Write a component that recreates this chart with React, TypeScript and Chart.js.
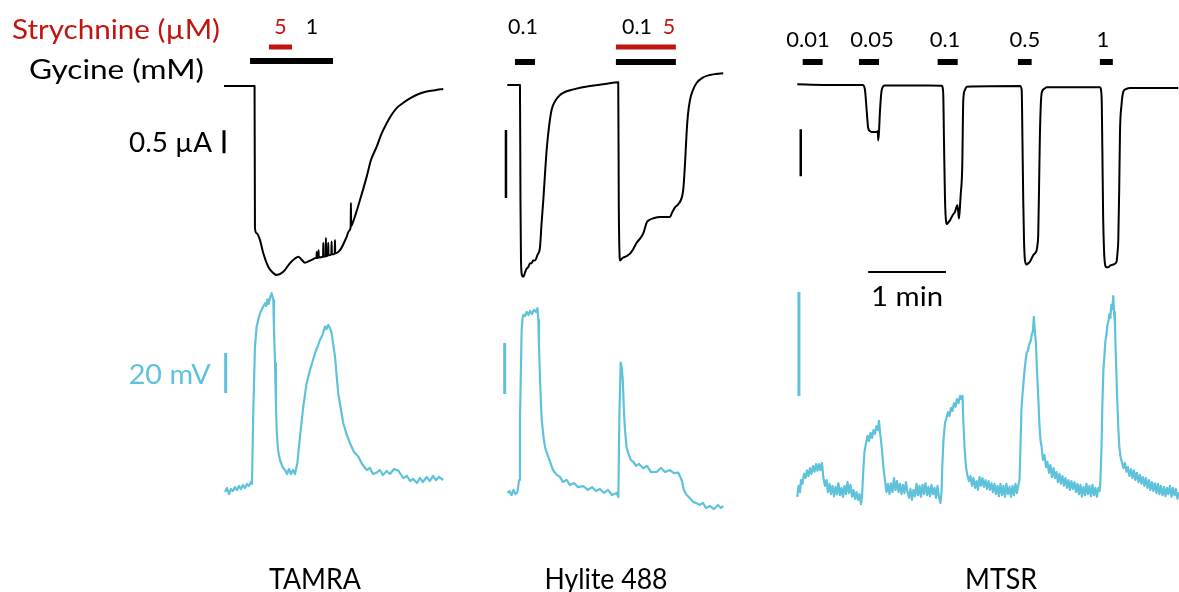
import React, { useEffect, useRef } from 'react';
import { Chart, registerables } from 'chart.js';

Chart.register(...registerables);

// ================= DATA =================
// time in s, current in µA (relative to holding level), voltage deflection in mV

const tamraCurrent: [number, number][] = [
  [0, 0], [23.6, 0], [23.9, -3.09], [25.2, -3.2], [27.8, -3.35], [30.3, -3.63], [34.2, -3.93], [37.1, -4.04],
  [40.7, -4.11], [45.8, -4.04], [51.0, -3.85], [54.8, -3.75], [57.4, -3.71], [59.8, -3.77], [62.5, -3.84],
  [67.7, -3.78], [71.0, -3.74],
  [71.4, -3.74], [71.6, -3.61], [71.8, -3.74],
  [72.8, -3.73], [73.0, -3.57], [73.2, -3.73],
  [76.5, -3.71], [76.7, -3.41], [76.9, -3.71],
  [78.5, -3.7], [78.7, -3.3], [78.9, -3.7],
  [80.3, -3.68], [80.5, -3.41], [80.7, -3.68],
  [82.9, -3.66], [83.1, -3.38], [83.3, -3.66],
  [85.5, -3.64], [85.7, -3.35], [85.9, -3.64],
  [89.6, -3.57], [94.7, -3.28], [96.5, -3.15],
  [97.8, -3.07], [98.0, -2.54], [98.2, -3.05],
  [99.6, -2.96], [105.0, -2.48], [110.2, -1.97], [113.5, -1.61], [117.9, -1.32], [121.6, -1.04], [125.6, -0.81],
  [129.3, -0.63], [133.3, -0.48], [138.2, -0.37], [143.6, -0.27], [149.8, -0.18], [156.5, -0.12], [162.9, -0.09],
  [169.3, -0.065],
];

const tamraVoltage: [number, number][] = [
  [0.8, -1.0], [2.3, 1.0], [3.9, -2.0], [5.4, 0.5], [6.9, -0.5], [8.5, 1.5], [10.0, 0], [11.6, 2.0], [13.1, 0.5],
  [14.7, 2.5], [16.2, 1.0], [17.8, 3.0], [19.3, 2.0], [20.8, 4.0], [21.6, 3.0],
  [22.6, 38.5], [23.9, 71.7], [25.2, 81.7], [27.8, 88.4], [30.1, 91.5], [31.7, 93.4], [32.6, 92], [33.6, 95.5],
  [34.4, 93], [35.5, 95.9], [36.8, 98.4], [38.1, 95], [38.6, 80], [39.4, 63.4], [40.1, 42.5], [40.7, 30],
  [41.7, 20], [43.2, 15], [45.2, 11.5], [47.1, 10], [48.6, 8], [50.2, 10.5], [51.7, 8], [53.3, 10], [54.8, 8],
  [56.6, 13.4], [58.7, 26.7], [61.2, 41.7], [63.8, 53.4], [66.4, 60], [68.3, 64], [70.3, 68.4], [72.2, 71.5],
  [74.1, 75], [75.7, 77], [78.0, 81.7], [79.1, 80.5], [80.5, 82.5], [81.8, 81], [83.1, 78.4], [85.7, 66.7],
  [88.2, 48.4], [92.1, 33.4], [94.6, 28], [97.3, 23.4], [100.4, 19], [103.7, 16.7], [106.6, 13], [110.2, 10],
  [112.7, 11], [115.0, 8], [117.9, 8.7], [120.4, 10], [122.7, 7.5], [125.6, 9.5], [128.2, 8], [131.2, 10.5],
  [134.6, 9.7], [136.3, 8], [138.4, 6], [141.3, 7], [143.6, 4.5], [146.1, 5.5], [149.0, 3.5], [151.3, 6],
  [153.6, 4], [156.5, 6.5], [159.0, 4.5], [161.4, 7], [163.7, 5], [166.0, 6.5], [169.3, 5],
];

const hyliteCurrent: [number, number][] = [
  [0.2, 0], [10.0, 0], [10.4, -0.85], [10.8, -1.29], [11.6, -1.4], [12.6, -1.41], [13.9, -1.38], [15.2, -1.35],
  [16.4, -1.34], [17.8, -1.31], [19.1, -1.31], [20.1, -1.29], [21.6, -1.29], [23.5, -1.25], [25.5, -1.19],
  [26.6, -1.03], [28.0, -0.85], [29.3, -0.66], [30.6, -0.48], [32.4, -0.31], [34.5, -0.18], [37.1, -0.12],
  [40.9, -0.074], [45.5, -0.048], [51.2, -0.032], [64.1, -0.007], [75.7, 0.007], [85.9, 0.02],
  [86.3, -0.85], [86.9, -1.25], [87.2, -1.29], [89.5, -1.27], [91.9, -1.26], [95.0, -1.24], [97.3, -1.21],
  [100.1, -1.16], [102.7, -1.13], [105.3, -1.09], [107.9, -1.01], [110.4, -0.99], [113.0, -0.98], [118.1, -0.97],
  [122.8, -0.97], [125.8, -0.97], [127.4, -0.94], [129.7, -0.9], [132.0, -0.88], [134.9, -0.83], [136.1, -0.77],
  [137.4, -0.59], [138.7, -0.35], [139.7, -0.22], [141.3, -0.11], [143.6, -0.037], [146.4, 0.015], [150.5, 0.051],
  [156.7, 0.074], [161.3, 0.081], [167.0, 0.086],
];

const hyliteVoltage: [number, number][] = [
  [0.4, 0.4], [1.9, 1.2], [3.5, -0.4], [5.0, 1.6], [6.6, 0], [8.1, 0.8], [9.3, 5.5], [10.0, 29.0], [10.6, 44.7],
  [11.3, 64.3], [12.0, 69.0], [12.6, 70.2], [13.9, 69.8], [15.2, 71.4], [16.6, 70.2], [17.8, 71.8], [19.3, 70.6],
  [20.8, 72.2], [22.4, 71.4], [23.5, 72.9], [24.2, 68.2], [24.7, 58.4], [25.5, 44.7], [26.8, 29.0], [28.2, 22.4],
  [29.3, 18.5], [31.3, 15.3], [33.2, 12.7], [35.5, 9.4], [38.4, 7.5], [40.9, 6.7], [43.2, 4.7], [46.1, 5.5],
  [48.6, 3.5], [51.7, 4.3], [54.8, 2.7], [58.9, 3.1], [62.5, 1.6], [65.6, 2.7], [68.7, 1.2], [71.8, 2.0],
  [74.9, 0.4], [78.0, 1.6], [81.1, -0.4], [84.7, 0.4], [86.0, -1.2], [86.8, 31.6], [87.8, 51.5], [88.6, 49.4],
  [89.4, 44.7], [90.3, 32.9], [91.1, 25.1], [92.3, 18.4], [93.6, 16.0], [95.7, 13.3], [97.5, 12.7], [99.6, 11.0],
  [101.9, 11.8], [105.2, 10.1], [108.1, 11.0], [111.2, 8.6], [115.6, 8.7], [118.9, 10.2], [122.0, 8.6],
  [125.8, 9.4], [128.9, 8.2], [132.2, 8.4], [134.9, 5.5], [136.6, 1.6], [138.7, -0.4], [141.3, -1.6],
  [143.6, -3.1], [146.4, -3.6], [149.0, -4.3], [151.3, -3.5], [153.6, -5.5], [156.7, -4.7], [159.8, -5.9],
  [162.9, -4.3], [165.2, -5.5], [167.0, -4.7],
];

const mtsrCurrent: [number, number][] = [
  [0.2, 0.007], [20.3, 0], [50.7, 0], [52.5, -0.053], [53.8, -0.27], [55.0, -0.46], [56.4, -0.49], [57.7, -0.5],
  [61.5, -0.5], [62.4, -0.49], [62.7, -0.59], [63.3, -0.5], [64.1, -0.27], [65.4, -0.053], [67.9, -0.005],
  [111.7, -0.007], [112.9, -0.085], [113.5, -0.59], [114.3, -1.22], [115.6, -1.48], [117.0, -1.46],
  [118.1, -1.44], [120.4, -1.38], [122.0, -1.35], [123.8, -1.28], [124.5, -1.35], [125.1, -1.42], [125.9, -1.28],
  [126.4, -1.17], [127.6, -0.87], [128.4, -0.16], [129.7, -0.053], [131.0, -0.018], [172.2, -0.011],
  [173.5, -0.053], [174.1, -0.59], [174.7, -1.22], [175.3, -1.65], [176.0, -1.86], [177.3, -1.91], [178.3, -1.9],
  [179.9, -1.88], [182.4, -1.81], [185.0, -1.76], [185.7, -1.7], [186.3, -1.58], [187.0, -1.01], [187.6, -0.51],
  [188.9, -0.088], [190.7, -0.043], [192.8, -0.024], [233.9, -0.024], [235.2, -0.12], [235.8, -0.69],
  [236.4, -1.4], [237.1, -1.76], [237.8, -1.9], [238.9, -1.94], [240.3, -1.94], [242.0, -1.92], [244.2, -1.91],
  [246.8, -1.88], [247.5, -1.78], [248.1, -1.65], [248.8, -1.12], [249.4, -0.51], [250.6, -0.21], [252.0, -0.071],
  [254.1, -0.043], [257.2, -0.032], [294.4, -0.032],
];

const mtsrVoltage: [number, number][] = [
  [0.2, -1.3], [1.2, 0.8], [2.3, -0.4], [3.1, 1.9], [4.2, 1.2], [5.4, 3.1], [6.6, 2.3], [7.7, 3.8], [8.9, 2.7],
  [10.0, 4.2], [11.2, 3.1], [12.4, 4.6], [13.5, 3.5], [14.7, 5.0], [15.8, 3.7], [17.0, 5.0], [18.1, 3.8],
  [19.3, 5.2], [20.3, 2.5], [21.6, 0.8], [22.8, 1.9], [23.9, -0.4], [25.1, 1.2], [26.2, -0.8], [27.4, 0.8],
  [28.6, -1.2], [29.7, 0.6], [30.9, -0.8], [32.0, 1.3], [33.2, -1.0], [34.4, 0.4], [35.5, -1.3], [36.7, 0.8],
  [37.8, -0.8], [39.0, 1.5], [40.1, -0.6], [41.3, 1.0], [42.5, -1.3], [43.6, 0], [44.8, -1.7], [45.9, -0.4],
  [47.1, -1.9], [48.3, -0.8], [49.4, -2.7], [50.2, -1.3], [51.2, 3.8], [52.1, 7.3], [53.3, 9.0], [54.4, 10.4],
  [55.6, 9.4], [56.8, 11.0], [57.9, 10.0], [59.1, 11.5], [60.2, 10.8], [61.4, 12.3], [62.5, 11.5], [63.3, 13.3],
  [64.1, 11.2], [65.4, 8.3], [66.8, 4.2], [67.9, 1.9], [69.1, -0.4], [70.3, 1.2], [71.4, -0.8], [72.6, 1.3],
  [73.7, -0.4], [74.9, 2.3], [76.0, 0], [77.2, 1.7], [78.4, -0.4], [79.5, 1.2], [80.7, -0.8], [81.8, 1.0],
  [83.0, -0.6], [84.1, 1.5], [85.3, -0.4], [86.5, -1.5], [87.6, 0.2], [88.8, -1.9], [89.9, 0], [91.1, -1.2],
  [92.3, 1.2], [93.4, -1.0], [94.6, 0.8], [95.7, -1.3], [96.9, 1.0], [98.0, -0.8], [99.2, 1.3], [100.4, -1.0],
  [101.5, 0.6], [102.7, -1.2], [103.8, 1.0], [105.0, -0.8], [106.2, 0.4], [107.3, -1.5], [108.5, 0.8],
  [109.6, -1.3], [110.8, -2.5], [111.6, -0.4], [112.2, 4.6], [113.1, 9.6], [114.3, 12.9], [115.4, 13.8],
  [116.6, 15.0], [117.7, 14.2], [118.9, 15.8], [120.0, 15.2], [121.2, 16.7], [122.4, 16.0], [123.5, 17.5],
  [124.7, 16.7], [125.9, 18.1], [127.0, 17.5], [127.8, 18.1], [128.4, 13.5], [129.4, 8.1], [130.5, 4.4],
  [131.7, 2.7], [132.8, 1.7], [134.0, 2.7], [135.1, 0.8], [136.3, 2.3], [137.5, 0.4], [138.6, 1.7], [139.8, 0],
  [140.9, 2.5], [142.1, 0.8], [143.2, 2.3], [144.4, 0.6], [145.6, 1.9], [146.7, 0.2], [147.9, 1.7], [149.0, 0],
  [150.2, 1.3], [151.3, -0.4], [152.5, 1.2], [153.6, -0.8], [154.8, 0.8], [155.9, -1.2], [157.1, 1.2],
  [158.3, -1.0], [159.4, 0.8], [160.6, -1.3], [161.7, 1.2], [162.9, -0.8], [164.1, 0.6], [165.2, -1.3],
  [166.4, 0.8], [167.5, -1.0], [168.7, 1.2], [169.8, -0.6], [170.8, 0.8], [171.8, 1.9], [172.5, 7.7],
  [173.3, 15.4], [174.1, 18.3], [174.7, 20.0], [175.6, 22.7], [176.4, 24.6], [177.3, 26.3], [178.3, 26.9],
  [179.5, 28.1], [180.6, 28.8], [181.4, 30.0], [182.2, 30.6], [182.9, 33.3], [183.7, 30.2], [184.5, 28.3],
  [185.3, 23.1], [186.3, 17.9], [187.2, 12.5], [188.0, 9.6], [188.9, 8.3], [189.9, 5.8], [191.1, 6.7],
  [192.3, 4.4], [193.4, 5.4], [194.6, 3.3], [195.7, 4.8], [196.9, 2.5], [198.1, 4.2], [199.2, 2.3], [200.4, 3.5],
  [201.5, 1.5], [202.7, 3.1], [203.8, 1.2], [205.0, 2.7], [206.1, 0.8], [207.3, 2.3], [208.5, 0.4], [209.6, 1.9],
  [210.8, 0], [211.9, 1.7], [213.1, 0.2], [214.3, 1.5], [215.4, -0.4], [216.6, 1.2], [217.7, -0.8], [218.9, 1.0],
  [220.0, -1.3], [221.2, 0.6], [222.4, -1.0], [223.5, 1.2], [224.7, -0.8], [225.8, 0.8], [227.0, -1.2],
  [228.2, 1.0], [229.3, -1.0], [230.5, 0.4], [231.6, -1.3], [232.8, 0.4], [233.7, -0.2], [234.3, 1.9],
  [235.1, 7.7], [235.8, 16.3], [236.6, 23.1], [237.4, 25.8], [238.1, 28.5], [238.9, 29.8], [239.7, 31.7],
  [240.4, 32.3], [241.2, 33.8], [242.0, 33.1], [242.7, 35.6], [243.5, 34.8], [244.2, 37.3], [244.8, 34.2],
  [245.5, 32.1], [246.2, 26.0], [247.2, 17.9], [248.2, 11.5], [248.9, 8.3], [249.9, 6.3], [250.9, 5.4],
  [252.1, 4.2], [253.2, 5.2], [254.4, 3.5], [255.5, 4.4], [256.7, 2.7], [257.9, 4.0], [259.0, 2.3], [260.2, 3.8],
  [261.3, 1.9], [262.5, 3.3], [263.7, 1.5], [264.8, 2.9], [266.0, 1.2], [267.1, 2.5], [268.3, 0.8], [269.4, 2.3],
  [270.6, 0.4], [271.8, 1.9], [272.9, 0], [274.1, 1.5], [275.2, -0.2], [276.4, 1.3], [277.6, -0.6], [278.7, 1.2],
  [279.9, -0.8], [281.0, 0.8], [282.2, -1.0], [283.4, 0.6], [284.5, -1.2], [285.7, 0.4], [286.8, -0.8],
  [288.0, 0.8], [289.2, -1.3], [290.3, 0.4], [291.5, -1.0], [292.6, 0.2], [293.8, -1.7], [294.6, -0.4],
];

const panelNames = ['TAMRA', 'Hylite 488', 'MTSR'];

// glycine applications (start s, end s) and concentrations (mM)
const tamraGlycine: [number, number][] = [[20.1, 84.2]];
const tamraGlycineConc = ['1'];
const hyliteGlycine: [number, number][] = [[6.2, 21.6], [84.1, 130.4]];
const hyliteGlycineConc = ['0.1', '0.1'];
const mtsrGlycine: [number, number][] = [[4.4, 19.8], [47.9, 63.3], [108.6, 124.1], [170.6, 181.2], [233.9, 243.9]];
const mtsrGlycineConc = ['0.01', '0.05', '0.1', '0.5', '1'];

// strychnine applications (start s, end s) and concentrations (µM)
const tamraStrychnine: [number, number][] = [[34.7, 52.5]];
const tamraStrychnineConc = ['5'];
const hyliteStrychnine: [number, number][] = [[84.1, 130.4]];
const hyliteStrychnineConc = ['5'];

// scale bar sizes
const currentBarSize = 0.5; // µA
const voltageBarSize = 20; // mV
const timeBarSize = 60; // s

// ================= LAYOUT =================
const W = 1179;
const H = 592;
const PX_PER_S = 1.295;
const panelLeftPx = [224, 507, 797];
const currentPxPerUnit = [46, 136, 94];
const currentZeroPx = [86, 85, 85];
const voltagePxPerUnit = [2, 2.55, 5.2];
const voltageZeroPx = [490, 494, 490];
const glyRowPx = [61, 62, 62];
const strRowPx = 47;
// label anchors (time, s) per panel
const glyLabelT = [[67.9], [12.4, 100.4], [8.5, 57.9, 114.3, 176.0, 236.2]];
const strLabelT = [[43.6], [125.1]];
const labelBaselinePx = [34, 34, 47];
const currentBarPos = [{ t: 0, top: -0.96 }, { t: -0.8, top: -0.33 }, { t: 2.9, top: -0.47 }];
const voltageBarPos = [{ t: 1.3, top: 68.5 }, { t: -1.8, top: 59.2 }, { t: 1.5, top: 38.1 }];
const timeBarPos = { t: 55.0, level: -1.99 };

const BLACK = '#000000';
const RED = '#c0160f';
const CYAN = '#5ec3da';
const FONT = 'Lato, "Open Sans", sans-serif';

function xRange(leftPx: number) {
  return { min: -leftPx / PX_PER_S, max: (W - leftPx) / PX_PER_S };
}
function yRange(pxPerUnit: number, zeroPx: number) {
  const max = zeroPx / pxPerUnit;
  return { min: max - H / pxPerUnit, max };
}

const pts = (arr: [number, number][]) => arr.map(([x, y]) => ({ x, y }));

function drawText(
  ctx: CanvasRenderingContext2D,
  text: string,
  x: number,
  baseline: number,
  size: number,
  color: string,
  align: 'left' | 'center' | 'right',
  opts: { width?: number; stretch?: number } = {}
) {
  ctx.save();
  ctx.font = `${size}px ${FONT}`;
  ctx.fillStyle = color;
  const w = ctx.measureText(text).width;
  const sx = opts.width ? opts.width / w : opts.stretch ?? 1;
  const tw = w * sx;
  const left = align === 'left' ? x : align === 'center' ? x - tw / 2 : x - tw;
  ctx.translate(left, baseline);
  ctx.scale(sx, 1);
  ctx.textAlign = 'left';
  ctx.textBaseline = 'alphabetic';
  ctx.fillText(text, 0, 0);
  ctx.restore();
}

export default function App() {
  const canvasRef = useRef<HTMLCanvasElement | null>(null);

  useEffect(() => {
    const canvas = canvasRef.current;
    if (!canvas) return;

    const currents = [tamraCurrent, hyliteCurrent, mtsrCurrent];
    const voltages = [tamraVoltage, hyliteVoltage, mtsrVoltage];
    const glys = [tamraGlycine, hyliteGlycine, mtsrGlycine];
    const glyConcs = [tamraGlycineConc, hyliteGlycineConc, mtsrGlycineConc];
    const strs = [tamraStrychnine, hyliteStrychnine, []] as [number, number][][];
    const strConcs = [tamraStrychnineConc, hyliteStrychnineConc, []];

    const scales: any = {};
    const datasets: any[] = [];
    for (let p = 0; p < 3; p++) {
      scales['x' + p] = { type: 'linear', display: false, ...xRange(panelLeftPx[p]) };
      scales['c' + p] = { type: 'linear', display: false, ...yRange(currentPxPerUnit[p], currentZeroPx[p]) };
      scales['v' + p] = { type: 'linear', display: false, ...yRange(voltagePxPerUnit[p], voltageZeroPx[p]) };

      datasets.push({
        data: pts(currents[p]), xAxisID: 'x' + p, yAxisID: 'c' + p,
        borderColor: BLACK, borderWidth: 2, showLine: true, pointRadius: 0,
        cubicInterpolationMode: 'monotone', borderJoinStyle: 'round',
      });
      datasets.push({
        data: pts(voltages[p]), xAxisID: 'x' + p, yAxisID: 'v' + p,
        borderColor: CYAN, borderWidth: 2.2, showLine: true, pointRadius: 0, tension: 0,
        borderJoinStyle: 'round',
      });
      // glycine bars
      const cpx = currentPxPerUnit[p];
      const glyLevel = (currentZeroPx[p] - glyRowPx[p]) / cpx;
      glys[p].forEach(([a, b]) => {
        datasets.push({
          data: [{ x: a, y: glyLevel }, { x: b, y: glyLevel }], xAxisID: 'x' + p, yAxisID: 'c' + p,
          borderColor: BLACK, borderWidth: 6, showLine: true, pointRadius: 0, borderCapStyle: 'butt',
        });
      });
      const strLevel = (currentZeroPx[p] - strRowPx) / cpx;
      strs[p].forEach(([a, b]) => {
        datasets.push({
          data: [{ x: a, y: strLevel }, { x: b, y: strLevel }], xAxisID: 'x' + p, yAxisID: 'c' + p,
          borderColor: RED, borderWidth: 5, showLine: true, pointRadius: 0, borderCapStyle: 'butt',
        });
      });
      // scale bars
      const cb = currentBarPos[p];
      datasets.push({
        data: [{ x: cb.t, y: cb.top }, { x: cb.t, y: cb.top - currentBarSize }], xAxisID: 'x' + p, yAxisID: 'c' + p,
        borderColor: BLACK, borderWidth: p === 0 ? 3 : 2.5, showLine: true, pointRadius: 0, borderCapStyle: 'butt',
      });
      const vb = voltageBarPos[p];
      datasets.push({
        data: [{ x: vb.t, y: vb.top }, { x: vb.t, y: vb.top - voltageBarSize }], xAxisID: 'x' + p, yAxisID: 'v' + p,
        borderColor: CYAN, borderWidth: 3, showLine: true, pointRadius: 0, borderCapStyle: 'butt',
      });
    }
    datasets.push({
      data: [{ x: timeBarPos.t, y: timeBarPos.level }, { x: timeBarPos.t + timeBarSize, y: timeBarPos.level }],
      xAxisID: 'x2', yAxisID: 'c2',
      borderColor: BLACK, borderWidth: 2, showLine: true, pointRadius: 0, borderCapStyle: 'butt',
    });

    const textPlugin = {
      id: 'figureText',
      afterDatasetsDraw(chart: any) {
        const ctx: CanvasRenderingContext2D = chart.ctx;
        const s = chart.scales;
        // left labels
        drawText(ctx, 'Strychnine (µM)', 220, 39, 26, RED, 'right', { width: 208 });
        drawText(ctx, 'Gycine (mM)', 204, 79, 26, BLACK, 'right', { width: 175 });
        const cbx = s.x0.getPixelForValue(currentBarPos[0].t);
        const cbBottom = s.c0.getPixelForValue(currentBarPos[0].top - currentBarSize);
        drawText(ctx, '0.5 µA', cbx - 12, cbBottom - 1, 26, BLACK, 'right', { width: 83 });
        const vbx = s.x0.getPixelForValue(voltageBarPos[0].t);
        const vbMid = s.v0.getPixelForValue(voltageBarPos[0].top - voltageBarSize / 2);
        drawText(ctx, '20 mV', vbx - 15, vbMid + 11, 27, CYAN, 'right', { width: 82 });
        // 1 min
        const tb0 = s.x2.getPixelForValue(timeBarPos.t);
        const tb1 = s.x2.getPixelForValue(timeBarPos.t + timeBarSize);
        const tby = s.c2.getPixelForValue(timeBarPos.level);
        drawText(ctx, '1 min', (tb0 + tb1) / 2, tby + 34, 27, BLACK, 'center', { width: 72 });
        // concentrations
        const concSize = [21, 21, 22];
        const concStretch = [1.02, 1.02, 1.0];
        for (let p = 0; p < 3; p++) {
          const xs = s['x' + p];
          glyConcs[p].forEach((c, i) => {
            drawText(ctx, c, xs.getPixelForValue(glyLabelT[p][i]), labelBaselinePx[p], concSize[p], BLACK, 'center', { stretch: concStretch[p] });
          });
          (strConcs[p] as string[]).forEach((c, i) => {
            drawText(ctx, c, xs.getPixelForValue(strLabelT[p][i]), labelBaselinePx[p], concSize[p], RED, 'center', { stretch: concStretch[p] });
          });
        }
        // panel names
        const nameCenters = [315, 606, 1001];
        const nameWidths = [92, 123, 72];
        panelNames.forEach((n, i) => {
          drawText(ctx, n, nameCenters[i], 589, 29, BLACK, 'center', { width: nameWidths[i] });
        });
      },
    };

    const chart = new Chart(canvas, {
      type: 'scatter',
      data: { datasets },
      options: {
        responsive: false,
        animation: false,
        devicePixelRatio: 1,
        events: [],
        layout: { padding: 0 },
        plugins: { legend: { display: false }, tooltip: { enabled: false }, title: { display: false } },
        scales,
      },
      plugins: [textPlugin],
    } as any);

    return () => chart.destroy();
  }, []);

  return (
    <div style={{ position: 'fixed', left: 0, top: 0, width: W, height: H, background: '#ffffff' }}>
      <canvas ref={canvasRef} width={W} height={H} style={{ width: W, height: H, display: 'block' }} />
    </div>
  );
}
